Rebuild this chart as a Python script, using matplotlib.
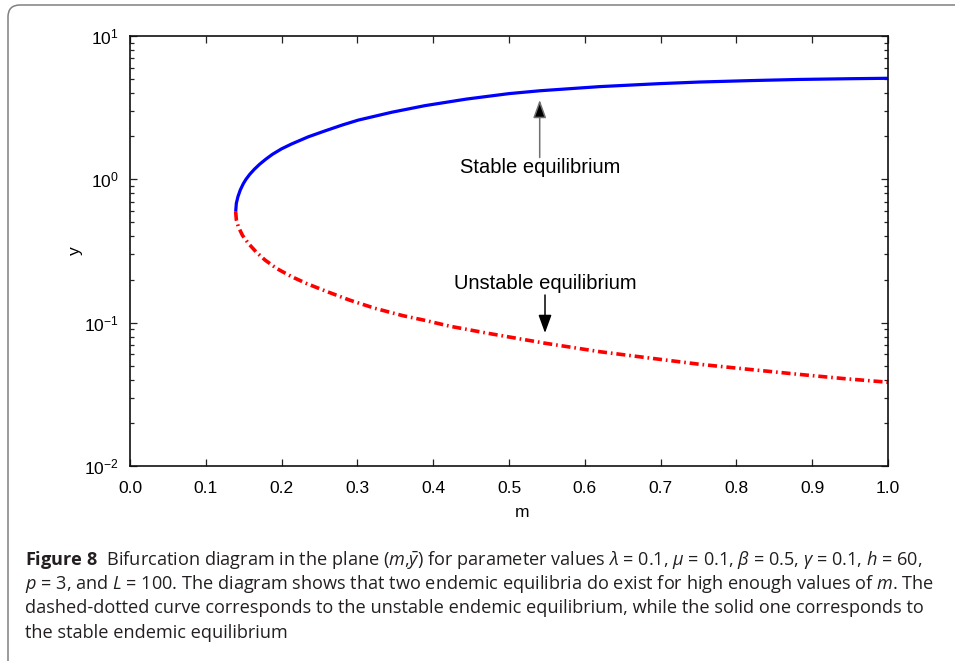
import math
import matplotlib
matplotlib.use('Agg')
import matplotlib.pyplot as plt
from matplotlib.patches import FancyBboxPatch
from matplotlib.transforms import IdentityTransform
from matplotlib.ticker import FixedLocator, LogLocator, FuncFormatter, NullFormatter

plt.rcParams['font.family'] = ['Liberation Sans', 'DejaVu Sans']
plt.rcParams['font.size'] = 12.5
plt.rcParams['mathtext.fontset'] = 'custom'
plt.rcParams['mathtext.rm'] = 'Open Sans'
plt.rcParams['mathtext.it'] = 'Open Sans:italic'
plt.rcParams['mathtext.bf'] = 'Open Sans:bold'
plt.rcParams['lines.scale_dashes'] = False
plt.rcParams['xtick.labelsize'] = 12.5
plt.rcParams['ytick.labelsize'] = 12.5

# ---- data ----
stable_m = [0.1394, 0.1403, 0.1424, 0.1455, 0.1495, 0.1530, 0.1580, 0.1640, 0.1710,
            0.1790, 0.1880, 0.2000, 0.2133, 0.2352, 0.2573, 0.2800, 0.3012, 0.3453,
            0.389, 0.444, 0.500, 0.541, 0.620, 0.700, 0.752, 0.820, 0.884, 0.950, 1.0]
stable_y = [0.594, 0.681, 0.757, 0.843, 0.933, 1.000, 1.084, 1.175, 1.274,
            1.380, 1.496, 1.633, 1.766, 1.980, 2.178, 2.393, 2.590, 2.938,
            3.266, 3.631, 3.963, 4.150, 4.436, 4.656, 4.775, 4.887, 4.977, 5.035, 5.070]

unstable_m = [0.1394, 0.1403, 0.1429, 0.1485, 0.1561, 0.1661, 0.1781, 0.1935, 0.2133,
              0.2330, 0.2573, 0.2900, 0.3232, 0.3600, 0.389, 0.4222, 0.470, 0.5475,
              0.620, 0.686, 0.752, 0.8136, 0.884, 0.940, 1.0]
unstable_y = [0.594, 0.522, 0.467, 0.4055, 0.3578, 0.3126, 0.2736, 0.2388, 0.2093,
              0.1875, 0.1667, 0.1435, 0.1259, 0.1119, 0.1038, 0.0944, 0.0847, 0.0719,
              0.0627, 0.0566, 0.0512, 0.0474, 0.0435, 0.0408, 0.0384]

x_ticks = [0.0, 0.1, 0.2, 0.3, 0.4, 0.5, 0.6, 0.7, 0.8, 0.9, 1.0]
x_tick_labels = ['0.0', '0.1', '0.2', '0.3', '0.4', '0.5', '0.6', '0.7', '0.8', '0.9', '1.0']
y_ticks = [1e-2, 1e-1, 1e0, 1e1]

stable_label = 'Stable equilibrium'
unstable_label = 'Unstable equilibrium'
stable_arrow_tip = (0.5405, 3.58)
stable_arrow_tail = (0.5405, 1.42)
stable_text_pos = (0.541, 1.20)
unstable_arrow_tip = (0.5475, 0.0847)
unstable_arrow_tail = (0.5475, 0.156)
unstable_text_pos = (0.5475, 0.189)

caption_lines = [
    r"$\mathbf{Figure\ 8}$  Bifurcation diagram in the plane ($m$,$\bar{y}$) for parameter values $\lambda$ = 0.1, $\mu$ = 0.1, $\beta$ = 0.5, $\gamma$ = 0.1, $h$ = 60,",
    r"$p$ = 3, and $L$ = 100. The diagram shows that two endemic equilibria do exist for high enough values of $m$. The",
    "dashed-dotted curve corresponds to the unstable endemic equilibrium, while the solid one corresponds to",
    "the stable endemic equilibrium",
]

W, H = 955, 661
fig = plt.figure(figsize=(W / 100, H / 100), dpi=100)
fig.patch.set_facecolor('white')

# outer rounded frame
frame = FancyBboxPatch((8, -30), 1000, H - 5 + 30, boxstyle='round,pad=0,rounding_size=12',
                       transform=IdentityTransform(), fill=False, ec='#808080', lw=1.1)
fig.add_artist(frame)

ax = fig.add_axes([130 / W, 1 - 466 / H, 758 / W, 430 / H])
ax.plot(stable_m, stable_y, color='#0000ff', lw=2.3, solid_capstyle='butt', solid_joinstyle='round')
ax.plot(unstable_m, unstable_y, color='#ff0000', lw=2.6, dashes=(6.5, 2.8, 1.2, 2.8),
        dash_capstyle='butt')

ax.set_yscale('log')
ax.set_xlim(0, 1)
ax.set_ylim(1e-2, 1e1)

ax.xaxis.set_major_locator(FixedLocator(x_ticks))
ax.set_xticklabels(x_tick_labels)
ax.yaxis.set_major_locator(FixedLocator(y_ticks))
ax.yaxis.set_major_formatter(FuncFormatter(lambda v, p: r'$\mathregular{10^{%d}}$' % round(math.log10(v))))
ax.yaxis.set_minor_locator(LogLocator(base=10, subs=[2, 3, 4, 5, 6, 7, 8, 9]))
ax.yaxis.set_minor_formatter(NullFormatter())
ax.tick_params(axis='both', which='both', direction='in', top=True, right=True, color='#222222')
ax.tick_params(axis='both', which='major', length=5, width=0.9)
ax.tick_params(axis='y', which='minor', length=3, width=0.9)
ax.tick_params(axis='x', which='major', pad=10.5)
ax.tick_params(axis='y', which='major', pad=8)
for s in ax.spines.values():
    s.set_linewidth(1.2)
    s.set_color('#111111')

# annotations
ax.annotate('', xy=stable_arrow_tip, xytext=stable_arrow_tail,
            arrowprops=dict(arrowstyle='-|>,head_length=0.55,head_width=0.2', fc='black', ec='#707070',
                            lw=1.1, shrinkA=0, shrinkB=0, mutation_scale=20))
ax.text(*stable_text_pos, stable_label, ha='center', va='center', fontsize=14.5)
ax.annotate('', xy=unstable_arrow_tip, xytext=unstable_arrow_tail,
            arrowprops=dict(arrowstyle='-|>,head_length=0.55,head_width=0.2', fc='black', ec='black',
                            lw=1.1, shrinkA=0, shrinkB=0, mutation_scale=20))
ax.text(*unstable_text_pos, unstable_label, ha='center', va='center', fontsize=14.5)

fig.text(522 / W, 1 - 517 / H, 'm', ha='center', va='baseline', fontsize=12.5)
fig.text(75 / W, 1 - 251 / H, 'y', ha='center', va='center', rotation=90, fontsize=12.5)

# caption
baselines = [565, 589, 613, 638]
targets = [920, 905, 905, 300]
caps = []
for line, b in zip(caption_lines, baselines):
    caps.append(fig.text(25 / W, 1 - b / H, line, ha='left', va='baseline', fontsize=12,
                         family='Open Sans', color='#231f20'))
fig.canvas.draw()
r = fig.canvas.get_renderer()
scale = min(tg / t.get_window_extent(r).width for tg, t in zip(targets[:3], caps[:3]))
for t in caps:
    t.set_fontsize(12 * scale)

fig.savefig('out.png', dpi=100)
